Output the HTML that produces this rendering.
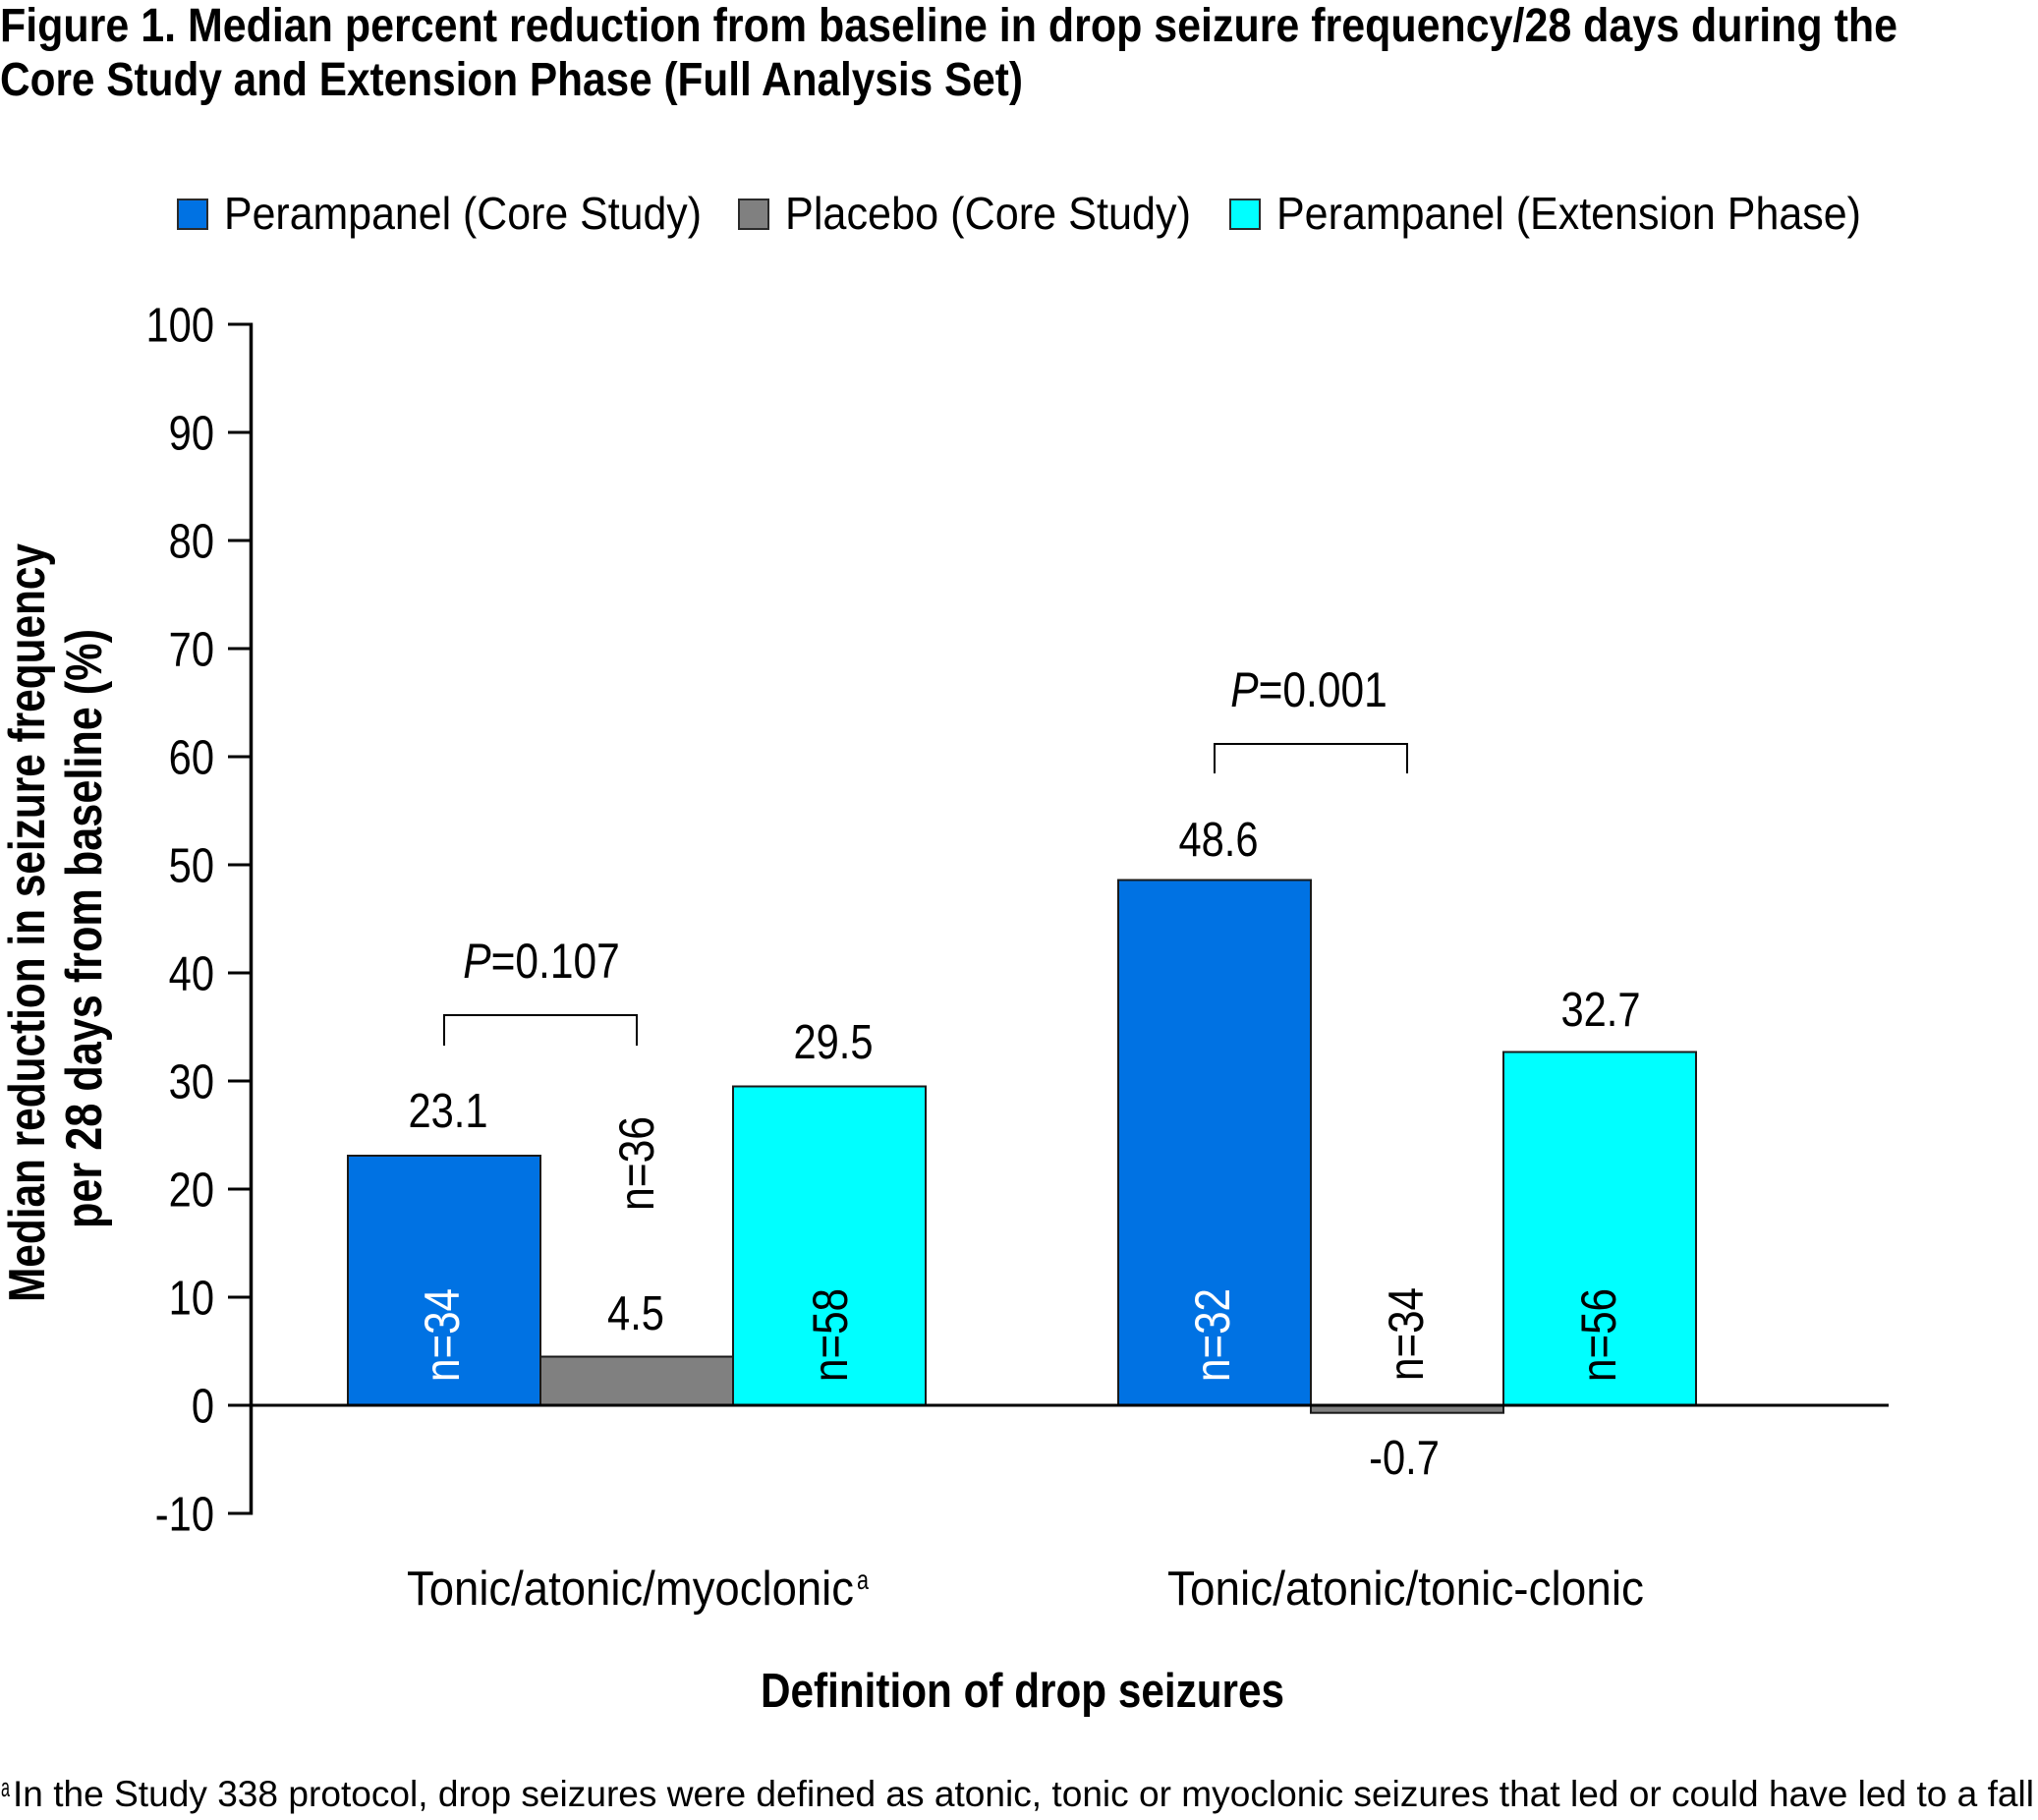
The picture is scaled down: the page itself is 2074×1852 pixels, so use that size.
<!DOCTYPE html>
<html>
<head>
<meta charset="utf-8">
<style>
  html, body { margin: 0; padding: 0; background: #ffffff; }
  svg { display: block; }
  text { font-family: "Liberation Sans", Arial, sans-serif; fill: #000; }
</style>
</head>
<body>
<svg width="2074" height="1852" viewBox="0 0 2074 1852" xmlns="http://www.w3.org/2000/svg">
  <rect x="0" y="0" width="2074" height="1852" fill="#ffffff"/>

  <!-- Title -->
  <text x="0" y="42" font-size="48" font-weight="bold" textLength="1931" lengthAdjust="spacingAndGlyphs">Figure 1. Median percent reduction from baseline in drop seizure frequency/28 days during the</text>
  <text x="0" y="97" font-size="48" font-weight="bold" textLength="1041" lengthAdjust="spacingAndGlyphs">Core Study and Extension Phase (Full Analysis Set)</text>

  <!-- Legend -->
  <rect x="181" y="203" width="30" height="30" fill="#0072e3" stroke="#2a2a2a" stroke-width="2"/>
  <text x="228" y="233" font-size="46" textLength="486" lengthAdjust="spacingAndGlyphs">Perampanel (Core Study)</text>
  <rect x="752" y="203" width="30" height="30" fill="#808080" stroke="#2a2a2a" stroke-width="2"/>
  <text x="799" y="233" font-size="46" textLength="413" lengthAdjust="spacingAndGlyphs">Placebo (Core Study)</text>
  <rect x="1252" y="203" width="30" height="30" fill="#00ffff" stroke="#2a2a2a" stroke-width="2"/>
  <text x="1299" y="233" font-size="46" textLength="595" lengthAdjust="spacingAndGlyphs">Perampanel (Extension Phase)</text>

  <!-- Y axis title -->
  <text transform="translate(45,1325) rotate(-90)" font-size="52" font-weight="bold" textLength="772" lengthAdjust="spacingAndGlyphs">Median reduction in seizure frequency</text>
  <text transform="translate(103,1250) rotate(-90)" font-size="52" font-weight="bold" textLength="610" lengthAdjust="spacingAndGlyphs">per 28 days from baseline (%)</text>

  <!-- Y tick labels -->
  <g font-size="49" text-anchor="end">
    <text transform="translate(218,347.5) scale(0.85,1)">100</text>
    <text transform="translate(218,457.5) scale(0.85,1)">90</text>
    <text transform="translate(218,567.5) scale(0.85,1)">80</text>
    <text transform="translate(218,677.5) scale(0.85,1)">70</text>
    <text transform="translate(218,787.5) scale(0.85,1)">60</text>
    <text transform="translate(218,897.5) scale(0.85,1)">50</text>
    <text transform="translate(218,1007.5) scale(0.85,1)">40</text>
    <text transform="translate(218,1117.5) scale(0.85,1)">30</text>
    <text transform="translate(218,1227.5) scale(0.85,1)">20</text>
    <text transform="translate(218,1337.5) scale(0.85,1)">10</text>
    <text transform="translate(218,1447.5) scale(0.85,1)">0</text>
    <text transform="translate(218,1557.5) scale(0.85,1)">-10</text>
  </g>

  <!-- Y ticks -->
  <g stroke="#000" stroke-width="3">
    <line x1="232" y1="330" x2="256" y2="330"/>
    <line x1="232" y1="440" x2="256" y2="440"/>
    <line x1="232" y1="550" x2="256" y2="550"/>
    <line x1="232" y1="660" x2="256" y2="660"/>
    <line x1="232" y1="770" x2="256" y2="770"/>
    <line x1="232" y1="880" x2="256" y2="880"/>
    <line x1="232" y1="990" x2="256" y2="990"/>
    <line x1="232" y1="1100" x2="256" y2="1100"/>
    <line x1="232" y1="1210" x2="256" y2="1210"/>
    <line x1="232" y1="1320" x2="256" y2="1320"/>
    <line x1="232" y1="1430" x2="256" y2="1430"/>
    <line x1="232" y1="1540" x2="256" y2="1540"/>
  </g>

  <!-- Bars group 1 -->
  <rect x="354" y="1176" width="196" height="254" fill="#0072e3" stroke="#1a1a1a" stroke-width="2"/>
  <rect x="550" y="1380.5" width="196" height="49.5" fill="#808080" stroke="#1a1a1a" stroke-width="2"/>
  <rect x="746" y="1105.5" width="196" height="324.5" fill="#00ffff" stroke="#1a1a1a" stroke-width="2"/>

  <!-- Bars group 2 -->
  <rect x="1138" y="895.5" width="196" height="534.5" fill="#0072e3" stroke="#1a1a1a" stroke-width="2"/>
  <rect x="1334" y="1430" width="196" height="7.7" fill="#808080" stroke="#1a1a1a" stroke-width="2"/>
  <rect x="1530" y="1070.5" width="196" height="359.5" fill="#00ffff" stroke="#1a1a1a" stroke-width="2"/>

  <!-- Axes -->
  <line x1="255.5" y1="328.5" x2="255.5" y2="1541.5" stroke="#000" stroke-width="3.5"/>
  <line x1="254" y1="1430" x2="1922" y2="1430" stroke="#000" stroke-width="3"/>

  <!-- Value labels -->
  <g font-size="49" text-anchor="middle">
    <text transform="translate(456,1147) scale(0.85,1)">23.1</text>
    <text transform="translate(647,1353) scale(0.85,1)">4.5</text>
    <text transform="translate(848,1077) scale(0.85,1)">29.5</text>
    <text transform="translate(1240,871) scale(0.85,1)">48.6</text>
    <text transform="translate(1429,1500) scale(0.85,1)">-0.7</text>
    <text transform="translate(1629,1044) scale(0.85,1)">32.7</text>
  </g>

  <!-- n labels (rotated) -->
  <g font-size="50">
    <text transform="translate(467,1406) rotate(-90)" textLength="95" lengthAdjust="spacingAndGlyphs" style="fill:#ffffff">n=34</text>
    <text transform="translate(665,1232) rotate(-90)" textLength="96" lengthAdjust="spacingAndGlyphs">n=36</text>
    <text transform="translate(862,1406) rotate(-90)" textLength="95" lengthAdjust="spacingAndGlyphs">n=58</text>
    <text transform="translate(1251,1406) rotate(-90)" textLength="95" lengthAdjust="spacingAndGlyphs" style="fill:#ffffff">n=32</text>
    <text transform="translate(1448,1405) rotate(-90)" textLength="95" lengthAdjust="spacingAndGlyphs">n=34</text>
    <text transform="translate(1644,1406) rotate(-90)" textLength="95" lengthAdjust="spacingAndGlyphs">n=56</text>
  </g>

  <!-- Significance brackets -->
  <path d="M452,1064 V1033 H648 V1064" fill="none" stroke="#000" stroke-width="2"/>
  <path d="M1236,787 V757 H1432 V787" fill="none" stroke="#000" stroke-width="2"/>
  <text transform="translate(551,995) scale(0.85,1)" font-size="50" text-anchor="middle"><tspan font-style="italic">P</tspan>=0.107</text>
  <text transform="translate(1332,719) scale(0.85,1)" font-size="50" text-anchor="middle"><tspan font-style="italic">P</tspan>=0.001</text>

  <!-- Category labels -->
  <text x="414" y="1633" font-size="49" textLength="455" lengthAdjust="spacingAndGlyphs">Tonic/atonic/myoclonic</text>
  <text x="872" y="1617" font-size="28" textLength="12" lengthAdjust="spacingAndGlyphs">a</text>
  <text x="1188" y="1633" font-size="49" textLength="485" lengthAdjust="spacingAndGlyphs">Tonic/atonic/tonic-clonic</text>

  <!-- X axis title -->
  <text x="774" y="1737" font-size="49" font-weight="bold" textLength="533" lengthAdjust="spacingAndGlyphs">Definition of drop seizures</text>

  <!-- Footnote -->
  <text x="1" y="1828" font-size="27" textLength="9" lengthAdjust="spacingAndGlyphs">a</text>
  <text x="13" y="1838" font-size="37" textLength="2057" lengthAdjust="spacingAndGlyphs">In the Study 338 protocol, drop seizures were defined as atonic, tonic or myoclonic seizures that led or could have led to a fall</text>
</svg>
</body>
</html>
